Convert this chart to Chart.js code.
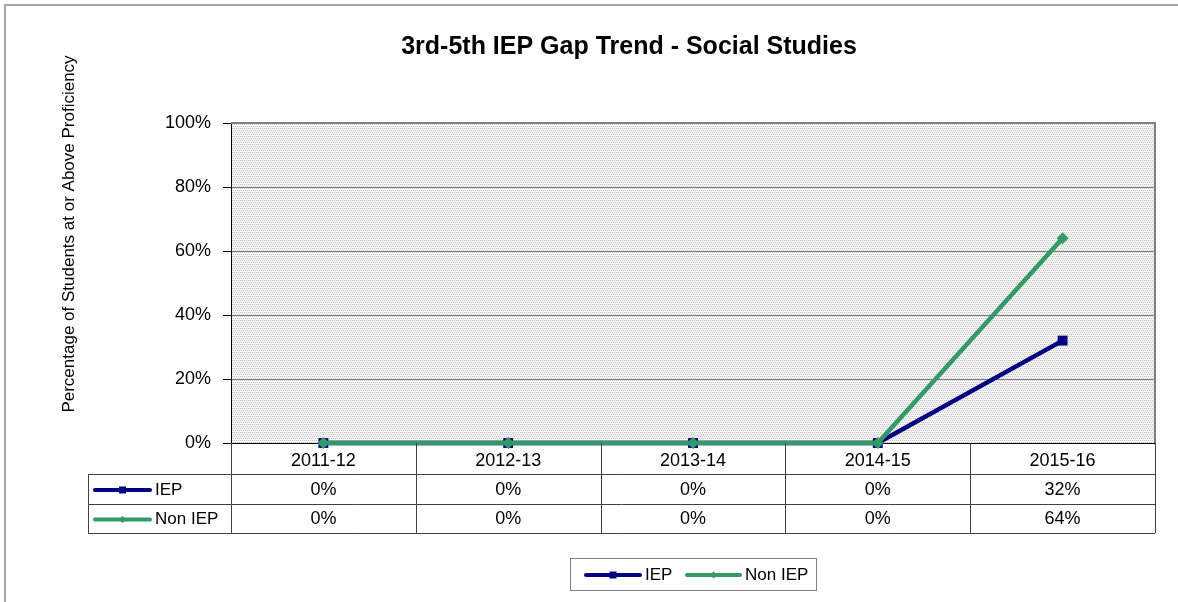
<!DOCTYPE html>
<html>
<head>
<meta charset="utf-8">
<script src="https://cdn.jsdelivr.net/npm/chart.js@4"></script>
<style>
  body { margin: 0; background: #fff; }
  canvas { display: block; }
</style>
</head>
<body>
<canvas id="myChart" width="1178" height="602"></canvas>
<script>
// data
const years = ['2011-12', '2012-13', '2013-14', '2014-15', '2015-16'];
const iep = [0, 0, 0, 0, 32];
const nonIep = [0, 0, 0, 0, 64];
const seriesNames = ['IEP', 'Non IEP'];
const chartTitle = '3rd-5th IEP Gap Trend - Social Studies';
const yTitle = 'Percentage of Students at or Above Proficiency';

const navy = '#000080';
const green = '#339966';
const FONT = 'Liberation Sans, Arial, sans-serif';

// dotted fill like the excel plot area
function makePattern() {
    const c = document.createElement('canvas');
    c.width = 4; c.height = 4;
    const p = c.getContext('2d');
    p.fillStyle = '#f4f4f4';
    p.fillRect(0, 0, 4, 4);
    p.fillStyle = '#c4c4c4';
    p.fillRect(0, 0, 1, 1);
    p.fillRect(2, 0, 1, 1);
    p.fillRect(1, 2, 1, 1);
    p.fillRect(3, 2, 1, 1);
    return document.getElementById('myChart').getContext('2d').createPattern(c, 'repeat');
}

function drawSample(ctx, x1, x2, y, color, style, size) {
    ctx.save();
    ctx.strokeStyle = color;
    ctx.fillStyle = color;
    ctx.lineWidth = 4;
    ctx.lineCap = 'round';
    ctx.beginPath();
    ctx.moveTo(x1, y);
    ctx.lineTo(x2, y);
    ctx.stroke();
    const m = (x1 + x2) / 2;
    ctx.beginPath();
    if (style === 'rect') {
        ctx.rect(m - size, y - size, size * 2, size * 2);
    } else {
        ctx.moveTo(m, y - size - 1);
        ctx.lineTo(m + size + 1, y);
        ctx.lineTo(m, y + size + 1);
        ctx.lineTo(m - size - 1, y);
        ctx.closePath();
    }
    ctx.fill();
    ctx.restore();
}

const excelLook = {
    id: 'excelLook',
    beforeDraw(chart) {
        const ctx = chart.ctx;
        const a = chart.chartArea;
        ctx.save();
        ctx.fillStyle = '#fff';
        ctx.fillRect(0, 0, chart.width, chart.height);
        // outer frame
        ctx.strokeStyle = '#a6a6a6';
        ctx.lineWidth = 2;
        ctx.beginPath();
        ctx.moveTo(5, chart.height + 5);
        ctx.lineTo(5, 5);
        ctx.lineTo(chart.width + 5, 5);
        ctx.stroke();
        ctx.fillStyle = makePattern();
        ctx.fillRect(a.left, a.top, a.right - a.left, a.bottom - a.top);
        ctx.restore();
    },
    afterDraw(chart) {
        const ctx = chart.ctx;
        const a = chart.chartArea;
        const x = chart.scales.x;
        ctx.save();

        // plot border top/right
        ctx.strokeStyle = '#808080';
        ctx.lineWidth = 2;
        ctx.beginPath();
        ctx.moveTo(a.left, a.top);
        ctx.lineTo(a.right, a.top);
        ctx.lineTo(a.right, a.bottom);
        ctx.stroke();

        // title
        ctx.fillStyle = '#000';
        ctx.font = 'bold 25px ' + FONT;
        ctx.textAlign = 'center';
        ctx.textBaseline = 'middle';
        ctx.fillText(chartTitle, 629, 47);

        // y axis title
        ctx.save();
        ctx.translate(69, 234);
        ctx.rotate(-Math.PI / 2);
        ctx.font = '17px ' + FONT;
        ctx.fillText(yTitle, 0, 0);
        ctx.restore();

        // data table
        const rowTops = [a.bottom, 474, 504, 533];
        const tableLeft = 88;
        const half = (x.getPixelForValue(1) - x.getPixelForValue(0)) / 2;
        ctx.strokeStyle = '#404040';
        ctx.lineWidth = 1;
        ctx.beginPath();
        for (let r = 1; r < rowTops.length; r++) {
            ctx.moveTo(tableLeft, rowTops[r] + 0.5);
            ctx.lineTo(a.right, rowTops[r] + 0.5);
        }
        ctx.moveTo(tableLeft + 0.5, rowTops[1]);
        ctx.lineTo(tableLeft + 0.5, rowTops[3]);
        ctx.moveTo(a.left + 0.5, a.bottom);
        ctx.lineTo(a.left + 0.5, rowTops[3]);
        for (let i = 0; i < years.length; i++) {
            const bx = Math.round(x.getPixelForValue(i) + half) + 0.5;
            ctx.moveTo(bx, a.bottom);
            ctx.lineTo(bx, rowTops[3]);
        }
        ctx.stroke();

        const rows = [iep, nonIep];
        const colors = [navy, green];
        const styles = ['rect', 'diamond'];
        for (let r = 0; r < rows.length; r++) {
            const cy = (rowTops[r + 1] + rowTops[r + 2]) / 2 + 1;
            drawSample(ctx, 95, 150, cy, colors[r], styles[r], r === 0 ? 3.5 : 2.5);
            ctx.fillStyle = '#000';
            ctx.font = '17px ' + FONT;
            ctx.textAlign = 'left';
            ctx.fillText(seriesNames[r], 155, cy);
            ctx.font = '18px ' + FONT;
            ctx.textAlign = 'center';
            rows[r].forEach((v, i) => {
                ctx.fillText(v + '%', x.getPixelForValue(i), cy);
            });
        }

        // legend box
        ctx.strokeStyle = '#808080';
        ctx.strokeRect(570.5, 558.5, 246, 32);
        drawSample(ctx, 586, 640, 575, navy, 'rect', 3.5);
        drawSample(ctx, 687, 740, 575, green, 'diamond', 2.5);
        ctx.fillStyle = '#000';
        ctx.font = '17px ' + FONT;
        ctx.textAlign = 'left';
        ctx.fillText(seriesNames[0], 645, 575);
        ctx.fillText(seriesNames[1], 745, 575);
        ctx.restore();
    }
};

const config = {
    type: 'line',
    data: {
        labels: years,
        datasets: [
            {
                label: seriesNames[0],
                data: iep,
                borderColor: navy,
                backgroundColor: navy,
                borderWidth: 4.5,
                pointStyle: 'rect',
                pointRadius: 7,
                pointHoverRadius: 7,
                pointBorderWidth: 0,
                clip: false,
                order: 2
            },
            {
                label: seriesNames[1],
                data: nonIep,
                borderColor: green,
                backgroundColor: green,
                borderWidth: 4.5,
                pointStyle: 'rectRot',
                pointRadius: 6,
                pointHoverRadius: 6,
                pointBorderWidth: 0,
                clip: false,
                order: 1
            }
        ]
    },
    options: {
        responsive: false,
        animation: false,
        layout: { padding: { left: 0, top: 123, right: 23, bottom: 0 } },
        plugins: {
            legend: { display: false },
            title: { display: false },
            tooltip: { enabled: false }
        },
        scales: {
            x: {
                offset: true,
                grid: { display: false, drawTicks: false },
                border: { display: true, color: '#000', width: 1 },
                ticks: {
                    color: '#000',
                    font: { family: FONT, size: 18 },
                    padding: 7,
                    maxRotation: 0
                },
                afterFit(scale) { scale.height = 159; }
            },
            y: {
                min: 0,
                max: 100,
                grid: { color: '#808080', lineWidth: 1, tickColor: '#000', tickLength: 8 },
                border: { display: true, color: '#000', width: 1 },
                ticks: {
                    stepSize: 20,
                    color: '#000',
                    padding: 12,
                    font: { family: FONT, size: 18 },
                    callback: v => v + '%'
                },
                afterFit(scale) { scale.width = 231; }
            }
        }
    },
    plugins: [excelLook]
};

const ctx = document.querySelector('#myChart').getContext('2d');
new Chart(ctx, config);
</script>
</body>
</html>
